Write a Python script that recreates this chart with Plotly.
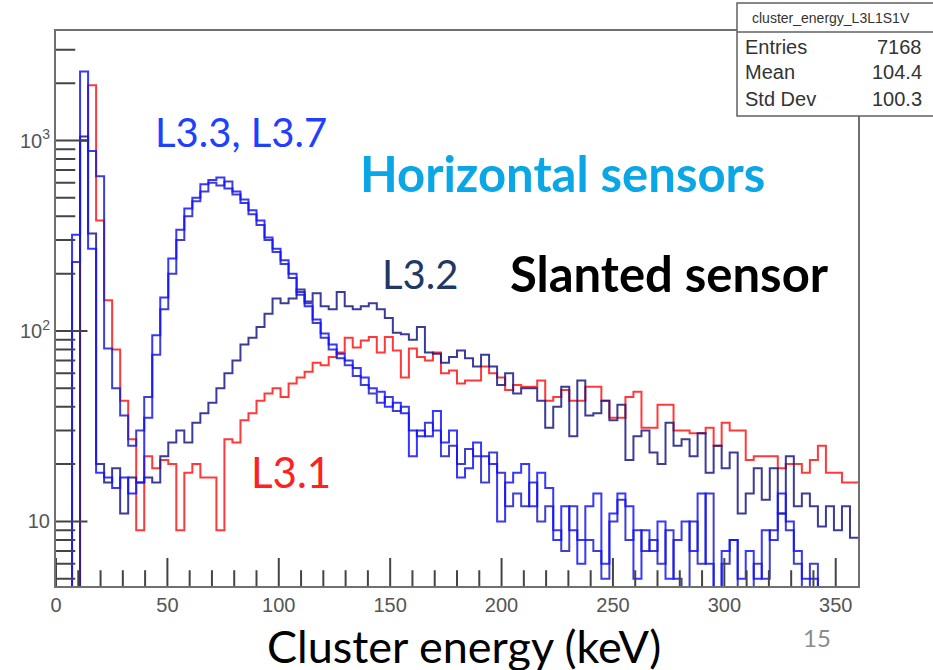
import plotly.graph_objects as go

# ---------------- data ----------------
BIN_WIDTH = 3.6          # keV per bin, 100 bins on 0..360 keV
X_RANGE = [0, 360]
Y_RANGE_LOG = [0.661, 3.575]   # log10 of axis limits (about 4.6 .. 3760)

L31 = [0, 0, 0, 1000, 1950, 380, 145, 80, 43, 27,
       9, 22, 19, 21, 20, 9, 18, 20, 17, 17,
       9, 27, 26, 34, 37, 43, 47, 50, 45, 53,
       57, 61, 68, 66, 73, 77, 92, 82, 89, 93,
       77, 93, 79, 57, 81, 73, 70, 77, 60, 62,
       53, 55, 55, 65, 60, 57, 49, 52, 51, 51,
       55, 43, 45, 49, 43, 43, 51, 51, 43, 35,
       35, 45, 48, 31, 31, 41, 41, 30, 30, 29,
       29, 31, 25, 33, 30, 30, 21, 22, 22, 22,
       19, 20, 20, 18, 21, 25, 18, 18, 16, 16]

L32 = [0, 0, 0, 1050, 325, 20, 16, 19, 11, 17,
       16, 17, 16, 22, 26, 30, 26, 33, 37, 42,
       50, 60, 70, 85, 92, 105, 123, 148, 140, 148,
       165, 143, 158, 135, 130, 160, 135, 130, 135, 140,
       130, 117, 98, 96, 90, 105, 77, 76, 68, 73,
       79, 72, 65, 75, 65, 52, 60, 47, 50, 50,
       43, 31, 40, 51, 28, 55, 36, 37, 43, 34,
       41, 21, 28, 30, 23, 20, 33, 25, 27, 22,
       29, 18, 25, 19, 23, 11, 14, 19, 13, 19,
       11, 22, 12, 14, 12, 9.4, 12, 9, 12, 8.2]

L33 = [0, 0, 320, 2300, 270, 18, 17, 15, 17, 14,
       16, 35, 95, 150, 240, 340, 440, 500, 590, 620,
       640, 560, 540, 470, 430, 380, 310, 270, 235, 200,
       160, 135, 115, 97, 85, 76, 70, 64, 57, 50,
       48, 40, 42, 37, 22, 30, 28, 38, 26, 30,
       17, 19, 26, 22, 20, 10, 16, 18, 20, 12,
       18, 15, 8, 12, 9, 6, 12, 14, 6, 11,
       14, 12, 5, 9, 7, 10, 5, 8, 10, 7,
       14, 6, 4, 7, 8, 5, 7, 5, 9, 8,
       14, 10, 7, 3, 5, 3, 3, 3, 3, 3]

L37 = [0, 0, 230, 1000, 880, 650, 81, 50, 36, 25,
       30, 45, 75, 130, 200, 300, 400, 480, 540, 600,
       580, 610, 520, 490, 410, 360, 300, 260, 225, 190,
       155, 140, 110, 92, 80, 72, 66, 58, 52, 47,
       42, 45, 38, 40, 30, 28, 33, 30, 22, 25,
       20, 24, 22, 16, 23, 18, 12, 14, 12, 16,
       10, 12, 9, 7, 12, 8, 8, 7, 5, 10,
       13, 8, 9, 7, 8, 6, 9, 5, 4, 10,
       6, 14, 4, 6, 8, 4, 4, 6, 5, 9,
       11, 9, 6, 5, 6, 3, 3, 3, 3, 3]

X_MAJOR = [0, 50, 100, 150, 200, 250, 300, 350]
X_MINOR = [10, 20, 30, 40, 60, 70, 80, 90, 110, 120, 130, 140, 160, 170, 180, 190,
           210, 220, 230, 240, 260, 270, 280, 290, 310, 320, 330, 340]
Y_TICKS = [10, 100, 1000]
Y_TICKTEXT = ["10", "10<sup>2</sup>", "10<sup>3</sup>"]
Y_MINOR = [5, 6, 7, 8, 9, 20, 30, 40, 50, 60, 70, 80, 90,
           200, 300, 400, 500, 600, 700, 800, 900, 2000, 3000]

STATS_NAME = "cluster_energy_L3L1S1V"
STATS_ROWS = [("Entries", "7168"), ("Mean", "104.4"), ("Std Dev", "100.3")]

# ---------------- figure ----------------
W, H = 933, 670
ML, MR, MT, MB = 56, 75, 31, 84
PW, PH = W - ML - MR, H - MT - MB
TICKC = "#444444"


def px(x):
    return (x - ML) / PW


def py(y):
    return (H - MB - y) / PH


def hist_xy(vals):
    xs = [i * BIN_WIDTH for i in range(len(vals) + 1)]
    ys = [v if v > 0 else 0.1 for v in vals]
    return xs, ys + [ys[-1]]


fig = go.Figure()
series = [
    ("L3.1", L31, "rgba(255,35,35,0.9)"),
    ("L3.2", L32, "rgba(25,25,135,0.85)"),
    ("L3.7", L37, "rgba(30,30,200,0.85)"),
    ("L3.3", L33, "rgba(20,20,255,0.85)"),
]
for name, vals, col in series:
    xs, ys = hist_xy(vals)
    fig.add_trace(go.Scatter(x=xs, y=ys, mode="lines", name=name,
                             line=dict(color=col, width=2, shape="hv"),
                             showlegend=False, hoverinfo="skip"))

# ROOT-style inward tick marks (markers sitting on the axis, clipped to the frame)
y_bottom = 10 ** Y_RANGE_LOG[0]
x_left = X_RANGE[0]


def tick_trace(xv, yv, symbol, length):
    return go.Scatter(x=xv, y=yv, mode="markers", showlegend=False, hoverinfo="skip",
                      cliponaxis=True,
                      marker=dict(symbol=symbol, size=2.5 * length, color=TICKC,
                                  line=dict(color=TICKC, width=2)))


fig.add_trace(tick_trace(X_MAJOR, [y_bottom] * len(X_MAJOR), "line-ns", 16))
fig.add_trace(tick_trace(X_MINOR, [y_bottom] * len(X_MINOR), "line-ns", 9))
fig.add_trace(tick_trace([x_left] * len(Y_TICKS), Y_TICKS, "line-ew", 18))
fig.add_trace(tick_trace([x_left] * len(Y_MINOR), Y_MINOR, "line-ew", 11))

tickfont = dict(family="Liberation Sans, Arial, sans-serif", size=20, color="#555555")
fig.update_layout(
    width=W, height=H,
    margin=dict(l=ML, r=MR, t=MT, b=MB, pad=0),
    paper_bgcolor="white", plot_bgcolor="white",
    xaxis=dict(range=X_RANGE, showgrid=False, zeroline=False,
               showline=True, mirror=True, linecolor="#707070", linewidth=2,
               ticks="", tickmode="array", tickvals=X_MAJOR, tickfont=tickfont),
    yaxis=dict(type="log", range=Y_RANGE_LOG, showgrid=False, zeroline=False,
               showline=True, mirror=True, linecolor="#707070", linewidth=2,
               ticks="", tickmode="array", tickvals=Y_TICKS, ticktext=Y_TICKTEXT,
               tickfont=tickfont),
)

# stats box
bx0, bx1, by0, by1, bdiv = 737, 945, 116, 3, 32
fig.add_shape(type="rect", xref="paper", yref="paper",
              x0=px(bx0), x1=px(bx1), y0=py(by0), y1=py(by1),
              fillcolor="white", line=dict(color="#606060", width=1.5), layer="above")
fig.add_shape(type="line", xref="paper", yref="paper",
              x0=px(bx0), x1=px(bx1), y0=py(bdiv), y1=py(bdiv),
              line=dict(color="#606060", width=1.5), layer="above")

ann = []
sfont = "Liberation Sans, Arial, sans-serif"
ann.append(dict(text=STATS_NAME, x=px(831), y=py(18), font=dict(family=sfont, size=14, color="#333")))
row_y = [47, 72, 99]
for (lab, val), ry in zip(STATS_ROWS, row_y):
    ann.append(dict(text=lab, x=px(743), y=py(ry), xanchor="left",
                    font=dict(family=sfont, size=20, color="#333")))
    ann.append(dict(text=val, x=px(924), y=py(ry), xanchor="right",
                    font=dict(family=sfont, size=20, color="#333")))

slide = "Lato, Noto Sans, sans-serif"
ann += [
    dict(text="L3.3, L3.7", x=px(241), y=py(132), font=dict(family=slide, size=40, color="#2040FF")),
    dict(text="<b>Horizontal sensors</b>", x=px(562), y=py(173), font=dict(family=slide, size=49, color="#0AA6E6")),
    dict(text="L3.2", x=px(420), y=py(274), font=dict(family=slide, size=40, color="#1F3864")),
    dict(text="<b>Slanted sensor</b>", x=px(669), y=py(273), font=dict(family=slide, size=49, color="#000000")),
    dict(text="L3.1", x=px(291), y=py(472), font=dict(family=slide, size=42, color="#FF2020")),
    dict(text="Cluster energy (keV)", x=px(464), y=py(646), font=dict(family=slide, size=45, color="#000000")),
    dict(text="15", x=px(817), y=py(637), font=dict(family=slide, size=24, color="#8C8C8C")),
]
for a in ann:
    a.setdefault("xanchor", "center")
    a.setdefault("yanchor", "middle")
    a.update(xref="paper", yref="paper", showarrow=False)
fig.update_layout(annotations=ann)

fig.write_html("out.html")
